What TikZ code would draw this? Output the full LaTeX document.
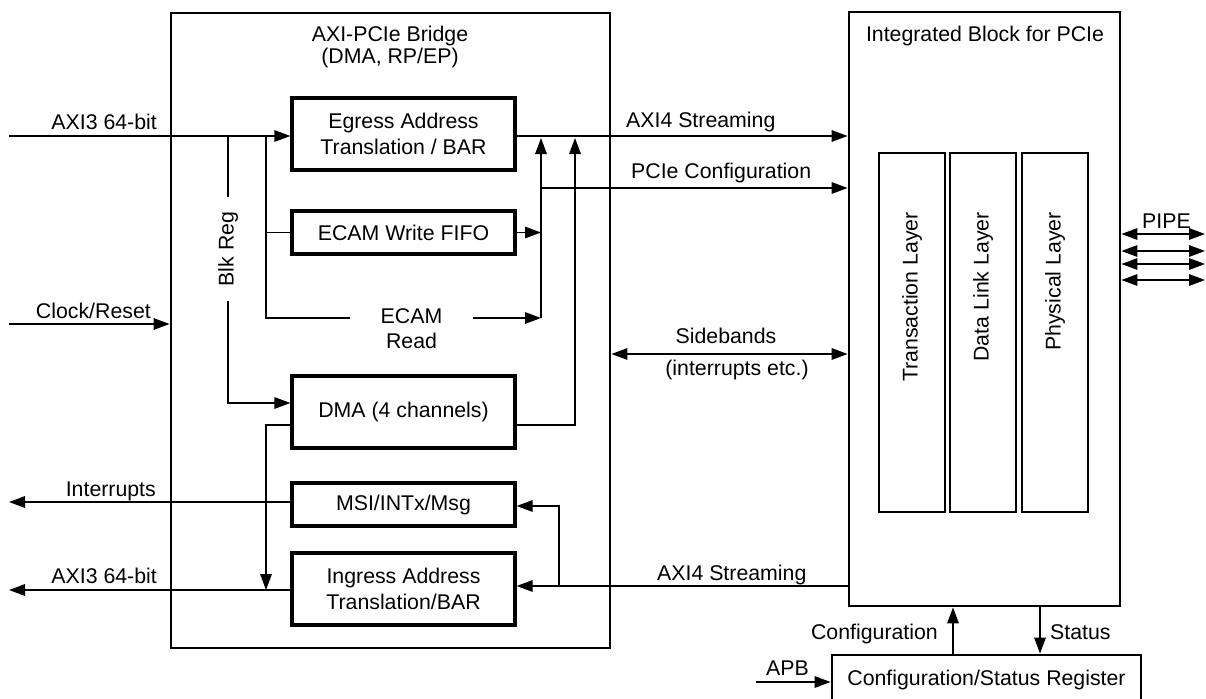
\documentclass[tikz,border=0pt]{standalone}
\usepackage{fontspec}
\setmainfont{Liberation Sans}
\usetikzlibrary{arrows.meta}
\begin{document}
\begin{tikzpicture}[x=1pt,y=-1pt,
  font=\fontsize{21.3}{26}\selectfont,
  wire/.style={line width=1.5pt},
  arr/.style={wire,-{Triangle[length=16pt,width=11.5pt]}},
  dbl/.style={wire,{Triangle[length=16pt,width=11.5pt]}-{Triangle[length=16pt,width=11.5pt]}},
  blk/.style={draw,line width=3.2pt,inner sep=0pt,align=center,minimum width=223pt},
  big/.style={draw,line width=2.8pt,inner sep=0pt},
  lay/.style={draw,line width=2.8pt,inner sep=0pt,minimum width=66pt,minimum height=359pt},
  lbl/.style={inner sep=0pt}
]
\useasboundingbox (0,0) rectangle (1206,698);

% main boxes
\node[big,minimum width=439pt,minimum height=635pt] (bridge) at (390.5,330.5) {};
\node[big,minimum width=271pt,minimum height=594pt] (ib) at (984.5,309) {};
\node[big,minimum width=309pt,minimum height=50pt] (csr) at (986.5,680) {Configuration/Status Register};

% titles
\node[lbl,anchor=base] (t1) at (390,42) {AXI-PCIe Bridge};
\node[lbl,anchor=base] (t2) at (390,64) {(DMA, RP/EP)};
\node[lbl,anchor=base] (t3) at (985,42) {Integrated Block for PCIe};

% inner blocks
\node[blk,minimum height=72pt] (egress) at (403.5,134) {Egress Address\\Translation / BAR};
\node[blk,minimum height=43pt] (ecamw) at (403.5,232.5) {ECAM Write FIFO};
\node[blk,minimum height=72pt] (dma) at (403.5,412) {DMA (4 channels)};
\node[blk,minimum height=43pt] (msi) at (403.5,504.5) {MSI/INTx/Msg};
\node[blk,minimum height=72pt] (ingress) at (403.5,589) {Ingress Address\\Translation/BAR};

% layers
\node[lay] (tl) at (912,332.5) {};
\node[lay] (dl) at (983,332.5) {};
\node[lay] (pl) at (1055,332.5) {};
\node[lbl,rotate=90,anchor=east] (tlt) at (912,212) {Transaction Layer};
\node[lbl,rotate=90,anchor=east] (dlt) at (983,212) {Data Link Layer};
\node[lbl,rotate=90,anchor=east] (plt) at (1055,212) {Physical Layer};

% inline text nodes
\node[lbl,rotate=90,inner xsep=14.7pt] (blkreg) at (228,249) {Blk Reg};
\node[lbl,inner xsep=30.7pt] (ecam) at (411.5,316) {ECAM};
\node[lbl] (read) at (411.5,340.5) {Read};

% coordinates
\coordinate (in1) at (9,136);
\coordinate (ja) at (228,136);
\coordinate (jb) at (266,136);
\coordinate (jc) at (266,318);
\coordinate (v1) at (541,318);
\coordinate (v1t) at (541,138);
\coordinate (pc) at (541,188);
\coordinate (v2t) at (575,138);
\coordinate (sb) at (700,354);
\coordinate (clk) at (9,324);
\coordinate (intr) at (9,502);
\coordinate (out2) at (9,590);
\coordinate (jd) at (266,590);
\coordinate (ax) at (559,586);
\coordinate (cfgx) at (953,640);
\coordinate (stx) at (1040,640);
\coordinate (apb) at (756,682);
\coordinate (p1) at (1205,234);
\coordinate (p2) at (1205,251);
\coordinate (p3) at (1205,264);
\coordinate (p4) at (1205,280);

% connectors
\draw[arr] (in1) -- (in1 -| egress.west);
\draw[wire] (ja) -- (blkreg.east);
\draw[arr] (blkreg.west) |- ([yshift=9pt]dma.west);
\draw[wire] (jb) -- (jc) -- (ecam.west |- jc);
\draw[wire] (ecamw.west -| jb) -- (ecamw.west);
\draw[arr] (ecam.east |- jc) -- (v1);
\draw[arr] (v1) -- (v1t);
\draw[arr] (ecamw.east) -- (ecamw.east -| v1);
\draw[arr] (pc) -- (pc -| ib.west);
\draw[arr] ([yshift=-13pt]dma.east) -| (v2t);
\draw[arr] (egress.east |- in1) -- (in1 -| ib.west);
\draw[dbl] (bridge.east |- sb) -- (ib.west |- sb);
\draw[arr] (clk) -- (clk -| bridge.west);
\draw[arr] (msi.west |- intr) -- (intr);
\draw[arr] (ingress.west |- out2) -- (out2);
\draw[arr] ([yshift=-13pt]dma.west) -| (jd);
\draw[arr] (ib.west |- ax) -- (ingress.east |- ax);
\draw[arr] (ax) |- ([yshift=-1.5pt]msi.east);
\draw[arr] (csr.north -| cfgx) -- (ib.south -| cfgx);
\draw[arr] (ib.south -| stx) -- (csr.north -| stx);
\draw[arr] (apb) -- (apb -| csr.west);
\draw[dbl] (ib.east |- p1) -- (p1);
\draw[dbl] (ib.east |- p2) -- (p2);
\draw[dbl] (ib.east |- p3) -- (p3);
\draw[dbl] (ib.east |- p4) -- (p4);

% labels
\node[lbl,anchor=base east] (l1) at (157,129) {AXI3 64-bit};
\node[lbl,anchor=base east] (l2) at (151,318) {Clock/Reset};
\node[lbl,anchor=base east] (l3) at (156,496) {Interrupts};
\node[lbl,anchor=base east] (l4) at (157,583) {AXI3 64-bit};
\node[lbl,anchor=base west] (l5) at (626,128) {AXI4 Streaming};
\node[lbl,anchor=base west] (l6) at (631,178) {PCIe Configuration};
\node[lbl,anchor=base] (l7) at (726,343) {Sidebands};
\node[lbl,anchor=base] (l8) at (737,375) {(interrupts etc.)};
\node[lbl,anchor=base west] (l9) at (657,580) {AXI4 Streaming};
\node[lbl,anchor=base east] (l10) at (938,639) {Configuration};
\node[lbl,anchor=base west] (l11) at (1050,639) {Status};
\node[lbl,anchor=base west] (l12) at (766,675) {APB};
\node[lbl,anchor=base west] (l13) at (1142,228) {PIPE};
\end{tikzpicture}
\end{document}
